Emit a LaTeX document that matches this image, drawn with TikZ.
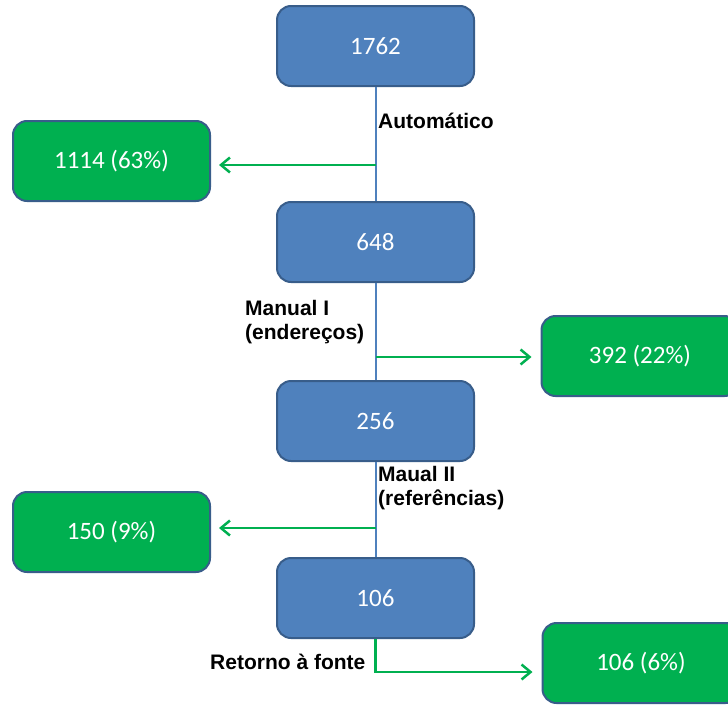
\documentclass[tikz,border=0pt]{standalone}
\usepackage{fontspec}
\setmainfont{Carlito}
\newfontfamily\lblfont{Liberation Sans}
\usepackage{xcolor}
\usetikzlibrary{arrows.meta, positioning}

\definecolor{boxblue}{HTML}{4F81BD}
\definecolor{boxedge}{HTML}{385D8A}
\definecolor{boxgreen}{HTML}{00B050}

\begin{document}
\begin{tikzpicture}[
    stage/.style={draw=boxedge, fill=boxblue, line width=2pt, rectangle, rounded corners=14pt, minimum width=197pt, minimum height=80pt, text=white, font=\fontsize{25}{29}\selectfont},
    outcome/.style={stage, fill=boxgreen},
    lbl/.style={anchor=west, align=left, inner sep=0pt, font=\lblfont\bfseries\fontsize{21}{24}\selectfont},
    flow/.style={draw=boxblue, line width=2pt},
    split/.style={-{Straight Barb[length=9pt,width=15pt,line width=2.5pt]}, draw=boxgreen, line width=2.5pt}
]
\useasboundingbox (0,0) rectangle (728pt,-704pt);
\clip (0,0) rectangle (728pt,-704pt);

% main chain
\node[stage] (b1762) at (375.5pt,-46pt) {1762};
\node[stage, below=114pt of b1762] (b648) {648};
\node[stage, below=97pt of b648] (b256) {256};
\node[stage, below=95pt of b256] (b106) {106};

% removed at each step
\node[outcome] (g1114) at (111.5pt,-161pt) {1114 (63\%)};
\node[outcome] (g392) at (640pt,-356pt) {392 (22\%)};
\node[outcome] (g150) at (111.5pt,-532pt) {150 (9\%)};
\node[outcome] (g106) at (641pt,-663pt) {106 (6\%)};

\node[lbl] (lauto) at (378pt,-121pt) {Automático};
\node[lbl] (lman1) at (245pt,-322pt) {Manual I\\(endereços)};
\node[lbl] (lman2) at (378pt,-488pt) {Maual II\\(referências)};
\node[lbl] (lret) at (210pt,-662pt) {Retorno à fonte};

\coordinate (j1) at (b1762.south |- 0,-165pt);
\coordinate (j2) at (b648.south |- 0,-357pt);
\coordinate (j3) at (b256.south |- 0,-528pt);
\coordinate (j4) at (b106.south |- 0,-672pt);

\draw[flow] (b1762) -- (b648);
\draw[flow] (b648) -- (b256);
\draw[flow] (b256) -- (b106);

\draw[split, shorten >=8pt] (j1) -- (j1 -| g1114.east);
\draw[split, shorten >=9pt] (j2) -- (j2 -| g392.west);
\draw[split, shorten >=8pt] (j3) -- (j3 -| g150.east);
\draw[split, shorten >=9pt] (b106.south) -- (j4) -- (j4 -| g106.west);
\end{tikzpicture}
\end{document}
